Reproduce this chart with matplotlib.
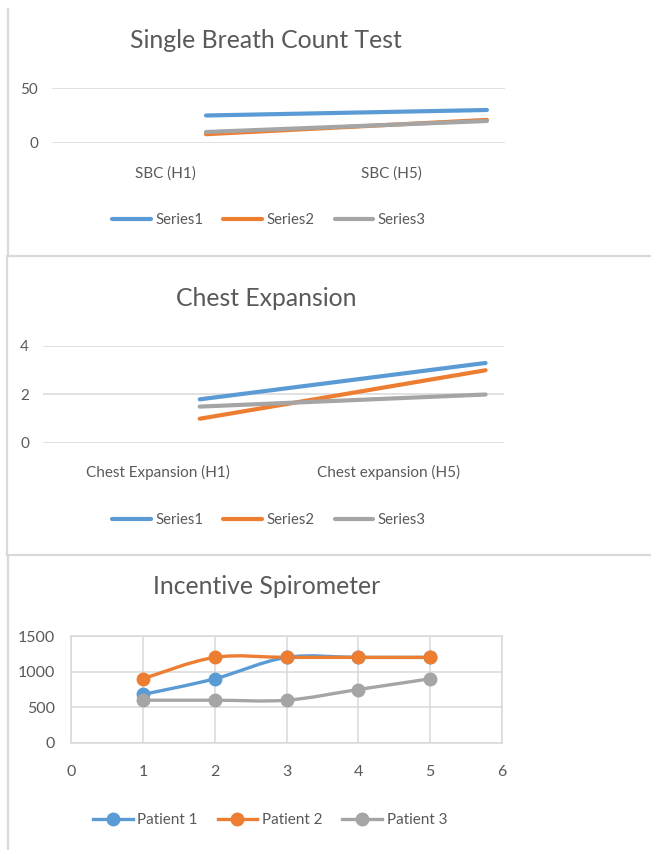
import matplotlib
matplotlib.use("Agg")
import matplotlib.pyplot as plt
from matplotlib.path import Path
from matplotlib.patches import PathPatch
from matplotlib.lines import Line2D
import numpy as np

plt.rcParams['font.family'] = ['Lato', 'DejaVu Sans']

# ---------------- data ----------------
sbc_categories = ["SBC (H1)", "SBC (H5)"]
sbc_series1 = [25, 30]
sbc_series2 = [8, 21]
sbc_series3 = [10, 20]

chest_categories = ["Chest Expansion (H1)", "Chest expansion (H5)"]
chest_series1 = [1.8, 3.3]
chest_series2 = [1.0, 3.0]
chest_series3 = [1.5, 2.0]

spiro_x = [1, 2, 3, 4, 5]
spiro_patient1 = [680, 900, 1200, 1200, 1200]
spiro_patient2 = [900, 1200, 1200, 1200, 1200]
spiro_patient3 = [600, 600, 600, 750, 900]

series_names = ["Series1", "Series2", "Series3"]
patient_names = ["Patient 1", "Patient 2", "Patient 3"]

# ---------------- style ----------------
BLUE, ORANGE, GREY = "#5B9BD5", "#ED7D31", "#A5A5A5"
TXT = "#595959"
GRID = "#D9D9D9"
W, H = 651, 850
fig = plt.figure(figsize=(W / 100, H / 100), dpi=100)


def fx(px):
    return px / W


def fy(py):
    return 1 - py / H


def axes_px(left, top, right, bottom):
    return fig.add_axes([fx(left), fy(bottom), fx(right - left), (bottom - top) / H])


# panel borders
border_kw = dict(color=GRID, lw=1.6, transform=fig.transFigure)
fig.add_artist(Line2D([fx(8), fx(8)], [fy(9), fy(256)], **border_kw))
fig.add_artist(Line2D([fx(8), fx(651)], [fy(256), fy(256)], **border_kw))
fig.add_artist(Line2D([fx(7), fx(7)], [fy(256), fy(555)], **border_kw))
fig.add_artist(Line2D([fx(7), fx(651)], [fy(555), fy(555)], **border_kw))
fig.add_artist(Line2D([fx(8), fx(8)], [fy(555), fy(850)], **border_kw))

TICK_FS = 11
TITLE_FS = 17.8
LINE_START, LINE_END = 0.18, 1.42  # where the category lines sit on the category axis


def category_panel(box, cats, series, yticks, title, title_y, legend_y, xpad):
    ax = axes_px(*box)
    ax.set_xlim(-0.5, len(cats) - 0.5)
    ax.set_ylim(yticks[0], yticks[-1])
    ax.set_xticks(range(len(cats)))
    ax.set_xticklabels(cats)
    ax.set_yticks(yticks)
    for s in ax.spines.values():
        s.set_visible(False)
    ax.tick_params(length=0, labelsize=TICK_FS, labelcolor=TXT)
    ax.tick_params(axis='x', pad=xpad)
    ax.tick_params(axis='y', pad=10)
    ax.yaxis.grid(True, color=GRID, lw=1.1)
    ax.set_axisbelow(True)
    lo, hi = ax.get_xlim()
    span = LINE_END - LINE_START
    ax2 = ax.twiny()
    ax2.set_xlim((lo - LINE_START) / span, (hi - LINE_START) / span)
    ax2.set_ylim(ax.get_ylim())
    ax2.axis('off')
    handles = []
    for vals, col, name in zip(series, [BLUE, ORANGE, GREY], series_names):
        h, = ax2.plot(range(len(vals)), vals, color=col, lw=3.0,
                      solid_capstyle='round', label=name)
        handles.append(h)
    fig.text(fx(266), fy(title_y), title, ha='center', va='center',
             fontsize=TITLE_FS, color=TXT)
    fig.legend(handles=handles, loc='center', bbox_to_anchor=(fx(269), fy(legend_y)),
               ncol=3, frameon=False, fontsize=TICK_FS - 0.3, labelcolor=TXT,
               handlelength=2.6, handletextpad=0.3, columnspacing=1.35)
    return ax


category_panel((52, 88, 505, 143), sbc_categories,
               [sbc_series1, sbc_series2, sbc_series3], [0, 50],
               "Single Breath Count Test", 41, 220, 17)

category_panel((43, 346, 504, 443), chest_categories,
               [chest_series1, chest_series2, chest_series3], [0, 2, 4],
               "Chest Expansion", 298, 520, 15.5)

# ---------------- Incentive Spirometer ----------------
ax = axes_px(71, 636, 502, 743)
ax.set_xlim(0, 6)
ax.set_ylim(0, 1500)
ax.set_xticks(range(0, 7))
ax.set_yticks([0, 500, 1000, 1500])
for s in ax.spines.values():
    s.set_color(GRID)
    s.set_linewidth(1.1)
ax.grid(True, color=GRID, lw=1.1)
ax.set_axisbelow(True)
ax.tick_params(length=0, labelsize=11.5, labelcolor=TXT)
ax.tick_params(axis='x', pad=16)
ax.tick_params(axis='y', pad=11.5)


def smooth_path(xs, ys):
    pts = np.column_stack([xs, ys]).astype(float)
    n = len(pts)
    verts = [pts[0]]
    codes = [Path.MOVETO]
    for i in range(n - 1):
        p0 = pts[i - 1] if i > 0 else pts[i]
        p1, p2 = pts[i], pts[i + 1]
        p3 = pts[i + 2] if i + 2 < n else pts[i + 1]
        c1 = p1 + (p2 - p0) / 6.0
        c2 = p2 - (p3 - p1) / 6.0
        verts += [c1, c2, p2]
        codes += [Path.CURVE4] * 3
    return Path(verts, codes)


handles = []
for vals, col, name in zip([spiro_patient1, spiro_patient2, spiro_patient3],
                           [BLUE, ORANGE, GREY], patient_names):
    ax.add_patch(PathPatch(smooth_path(spiro_x, vals), facecolor='none',
                           edgecolor=col, lw=2.4, capstyle='round'))
    ax.plot(spiro_x, vals, 'o', color=col, ms=9, zorder=3)
    handles.append(Line2D([], [], color=col, lw=2.4, marker='o', ms=9, label=name))

fig.text(fx(267), fy(587), "Incentive Spirometer", ha='center', va='center',
         fontsize=TITLE_FS, color=TXT)
fig.legend(handles=handles, loc='center', bbox_to_anchor=(fx(270), fy(820)),
           ncol=3, frameon=False, fontsize=11, labelcolor=TXT,
           handlelength=2.6, handletextpad=0.3, columnspacing=1.3)

fig.savefig("out.png", dpi=100)
